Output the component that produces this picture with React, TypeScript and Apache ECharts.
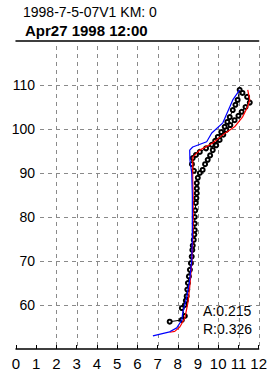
import React, { useEffect, useRef } from "react";
import * as echarts from "echarts";

const titleLine1 = "1998-7-5-07V1 KM: 0";
const titleLine2 = "Apr27 1998 12:00";
const statA = "A:0.215";
const statR = "R:0.326";

const observed: [number, number][] = [
  [7.6, 56.2], [8.2, 56.6], [8.35, 57.5], [8.2, 59.3], [8.35, 60], [8.4, 61], [8.44, 62],
  [8.47, 63.5], [8.5, 65], [8.55, 66.5], [8.6, 68], [8.65, 69.5], [8.69, 71], [8.72, 72.5],
  [8.74, 73.5], [8.79, 74.8], [8.82, 76], [8.84, 77], [8.84, 78.5], [8.84, 80], [8.86, 81.5],
  [8.89, 83.2], [8.92, 84.3], [8.94, 85.4], [8.94, 86.5], [8.94, 87.7], [8.99, 88.9],
  [9.09, 90], [9.23, 90.7], [9.35, 92], [9.48, 93], [9.6, 94], [9.73, 95.2], [9.9, 96.3],
  [10.07, 97.5], [10.25, 98.7], [10.4, 99.8], [10.6, 100.9], [10.81, 102], [11.0, 103],
  [11.16, 103.9], [11.35, 105], [11.56, 106], [11.43, 107.3], [11.2, 108.2], [11.06, 108.9],
  [10.96, 106.6], [10.85, 105.5], [10.72, 104.3], [10.57, 102.7], [10.45, 101.6],
  [10.32, 100.5], [10.15, 99.3], [9.98, 98.2], [9.85, 97.3], [9.68, 96.4], [9.4, 95.6],
  [9.09, 94.8], [8.9, 94.1], [8.74, 93.4], [8.7, 92], [8.8, 90.5],
];

const modelRed: [number, number][] = [
  [7.6, 53.8], [7.85, 54], [8.1, 55], [8.35, 57], [8.5, 60.5], [8.59, 64], [8.69, 69.5],
  [8.74, 74], [8.76, 80], [8.76, 85], [8.74, 88.4], [8.74, 91], [8.74, 93.6], [9.09, 95.2],
  [9.73, 96.8], [10.32, 99], [10.81, 100.5], [11.2, 102.7], [11.45, 105], [11.56, 106.6],
  [11.5, 108], [11.46, 108.9],
];

const modelBlue: [number, number][] = [
  [6.77, 53], [7.6, 53.9], [7.95, 54.8], [8.2, 56.6], [8.25, 58.4], [8.44, 61.8],
  [8.59, 65.7], [8.69, 70.2], [8.72, 75], [8.72, 80], [8.72, 85], [8.69, 90], [8.6, 93],
  [8.59, 95.2], [8.74, 95.9], [9.43, 97.1], [9.68, 99.1], [10.23, 101.4], [10.72, 106.6],
  [11.06, 108.9],
];

const yLabelValues = [60, 70, 80, 90, 100, 110];

const NARROW = "'Liberation Sans Narrow', 'Liberation Sans', Arial, sans-serif";
const SANS = "'Liberation Sans', Arial, sans-serif";

export default function App() {
  const ref = useRef<HTMLDivElement>(null);
  useEffect(() => {
    document.body.style.margin = "0";
    if (!ref.current) return;
    const chart = echarts.init(ref.current, undefined, { renderer: "svg" });
    const grid = { top: 41, bottom: 26, right: 11 };
    const dashed = { color: "#8a8a8a", width: 1, type: [4, 4] as number[] };
    chart.setOption({
      animation: false,
      backgroundColor: "#ffffff",
      grid: [
        { ...grid, left: 16 },
        { ...grid, left: 40 },
        { ...grid, top: 46, left: 16 + 2 * (243 / 12) },
      ],
      xAxis: [
        {
          gridIndex: 0, type: "value", min: 0, max: 12, interval: 1, position: "bottom",
          axisLine: { show: true, lineStyle: { color: "#000", width: 1.5 } },
          axisTick: { show: true, inside: true, length: 4, lineStyle: { color: "#000", width: 1 } },
          axisLabel: { show: true, color: "#000", fontFamily: NARROW, fontSize: 15, margin: 7, showMinLabel: true, showMaxLabel: true },
          splitLine: { show: false },
        },
        {
          gridIndex: 0, type: "value", min: 0, max: 12, position: "top",
          axisLine: { show: true, lineStyle: { color: "#000", width: 1.5 } },
          axisTick: { show: false }, axisLabel: { show: false }, splitLine: { show: false },
        },
        {
          gridIndex: 1, type: "value", min: 0, max: 12, show: false,
        },
        {
          gridIndex: 2, type: "value", min: 2, max: 12, interval: 1,
          axisLine: { show: false }, axisTick: { show: false }, axisLabel: { show: false },
          splitLine: { show: true, lineStyle: dashed },
        },
      ],
      yAxis: [
        {
          gridIndex: 0, type: "value", min: 50, max: 120,
          axisLine: { show: false }, axisTick: { show: false }, axisLabel: { show: false }, splitLine: { show: false },
        },
        {
          gridIndex: 1, type: "value", min: 50, max: 120, interval: 10,
          axisLine: { show: false }, axisTick: { show: false },
          axisLabel: {
            show: true, color: "#000", fontFamily: NARROW, fontSize: 14, margin: 5,
            formatter: (v: number) => (yLabelValues.includes(v) ? String(v) : ""),
          },
          splitLine: { show: true, showMinLine: false, showMaxLine: false, lineStyle: dashed },
        },
        {
          gridIndex: 2, type: "value", min: 50, max: 120, show: false,
        },
      ],
      series: [
        {
          type: "line", xAxisIndex: 0, yAxisIndex: 0, data: observed,
          symbol: "emptyCircle", symbolSize: 4, showSymbol: true,
          lineStyle: { color: "#000", width: 1 },
          itemStyle: { color: "#000", borderWidth: 0.9 },
          z: 3,
        },
        {
          type: "line", xAxisIndex: 0, yAxisIndex: 0, data: modelRed,
          symbol: "none", lineStyle: { color: "#ff0000", width: 1.2 }, z: 4,
        },
        {
          type: "line", xAxisIndex: 0, yAxisIndex: 0, data: modelBlue,
          symbol: "none", lineStyle: { color: "#0000ff", width: 1.2 }, z: 5,
        },
      ],
      graphic: [
        { type: "text", left: 23, top: 5, style: { text: titleLine1, fill: "#000", font: `14px ${SANS}` } },
        { type: "text", left: 25, top: 23, style: { text: titleLine2, fill: "#000", font: `bold 15px ${SANS}` } },
        { type: "text", left: 203, top: 304, style: { text: statA, fill: "#000", font: `14px ${NARROW}` } },
        { type: "text", left: 203, top: 322, style: { text: statR, fill: "#000", font: `14px ${NARROW}` } },
      ],
    });
    return () => chart.dispose();
  }, []);
  return <div ref={ref} style={{ width: 270, height: 375 }} />;
}
